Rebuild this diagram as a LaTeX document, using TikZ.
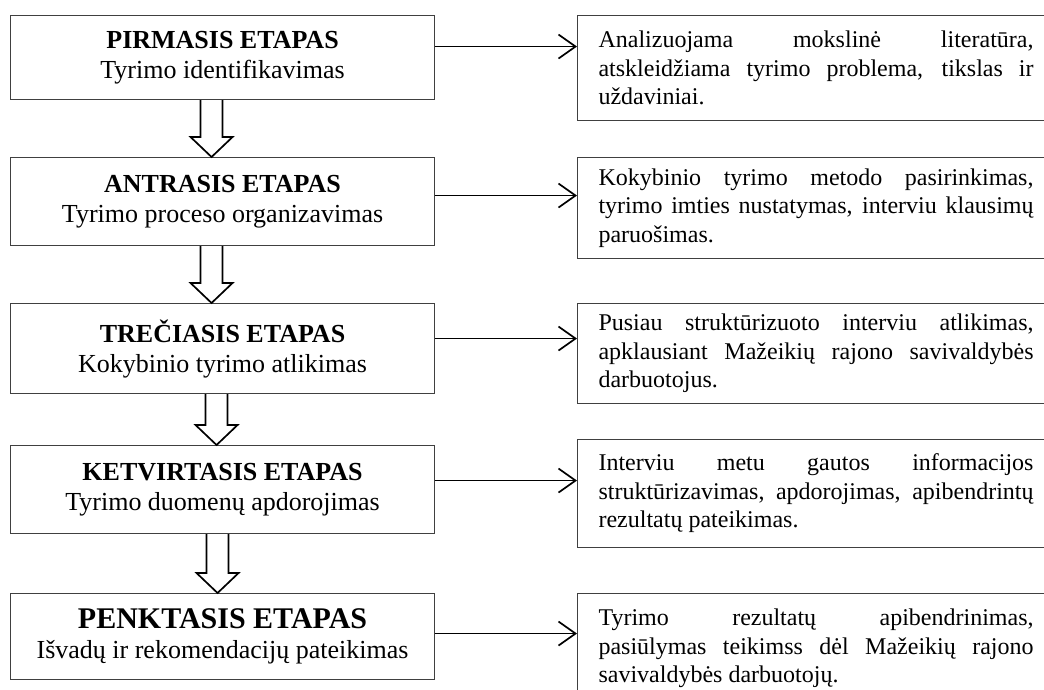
\documentclass[tikz,border=0pt]{standalone}
\usepackage{fontspec}
\setmainfont{Liberation Serif}
\usetikzlibrary{calc,arrows.meta}

\hyphenpenalty=10000
\tolerance=10000

\tikzset{
    stagebox/.style={draw=black!75, line width=1.1pt, rectangle, anchor=north west,
        minimum width=424pt, inner sep=0pt, align=center,
        font=\fontsize{26}{30}\selectfont},
    notebox/.style={draw=black!75, line width=1.1pt, rectangle, anchor=north west,
        text width=435pt, inner xsep=21pt, inner ysep=0pt, align=justify,
        font=\fontsize{24}{28.5}\selectfont},
    linkarrow/.style={line width=1.7pt, -{Straight Barb[length=17pt,width=24pt,line width=1.7pt]}},
    blockarrow/.style={line width=1.7pt, line join=miter},
}

\begin{document}
\begin{tikzpicture}[x=1pt, y=-1pt]
    \useasboundingbox (0,0) rectangle (1044,690);

    % stages
    \node[stagebox, minimum height=84pt] (L1) at (10,15)
        {{\bfseries PIRMASIS ETAPAS}\\Tyrimo identifikavimas};
    \node[stagebox, minimum height=88pt] (L2) at (10,157)
        {{\bfseries ANTRASIS ETAPAS}\\Tyrimo proceso organizavimas};
    \node[stagebox, minimum height=90pt] (L3) at (10,303)
        {{\bfseries TREČIASIS ETAPAS}\\Kokybinio tyrimo atlikimas};
    \node[stagebox, minimum height=88pt] (L4) at (10,445)
        {{\bfseries KETVIRTASIS ETAPAS}\\Tyrimo duomenų apdorojimas};
    \node[stagebox, minimum height=86pt] (L5) at (10,593)
        {{\fontsize{30}{30}\selectfont\bfseries PENKTASIS ETAPAS}\\Išvadų ir rekomendacijų pateikimas};

    % descriptions
    \node[notebox, minimum height=105pt] (R1) at (577,15)
        {Analizuojama mokslinė literatūra,\linebreak atskleidžiama tyrimo problema, tikslas ir\linebreak uždaviniai.};
    \node[notebox, minimum height=101pt] (R2) at (577,157)
        {Kokybinio tyrimo metodo pasirinkimas,\linebreak tyrimo imties nustatymas, interviu klausimų\linebreak paruošimas.};
    \node[notebox, minimum height=100pt] (R3) at (577,303)
        {Pusiau struktūrizuoto interviu atlikimas,\linebreak apklausiant Mažeikių rajono savivaldybės\linebreak darbuotojus.};
    \node[notebox, minimum height=108pt] (R4) at (577,439)
        {Interviu metu gautos informacijos\linebreak struktūrizavimas, apdorojimas, apibendrintų\linebreak rezultatų pateikimas.};
    \node[notebox, minimum height=110pt] (R5) at (577,593)
        {Tyrimo rezultatų apibendrinimas,\linebreak pasiūlymas teikimss dėl Mažeikių rajono\linebreak savivaldybės darbuotojų.};

    % stage -> description
    \foreach \i/\dy in {1/11,2/6,3/10,4/9,5/3}
        \draw[linkarrow] ([yshift=\dy pt]L\i.east) -- ([yshift=\dy pt]L\i.east -| R\i.west);

    % stage -> next stage
    \foreach \a/\b/\dx in {L1/L2/-11,L2/L3/-11,L3/L4/-6,L4/L5/-5}{
        \coordinate (top) at ($(\a.south)+(\dx,0)$);
        \coordinate (tip) at ($(\b.north)+(\dx,0)$);
        \draw[blockarrow] ($(top)+(-11,0)$) -- ($(tip)+(-11,-20)$) -- ($(tip)+(-21,-20)$)
            -- (tip) -- ($(tip)+(21,-20)$) -- ($(tip)+(11,-20)$) -- ($(top)+(11,0)$);
    }
\end{tikzpicture}
\end{document}
